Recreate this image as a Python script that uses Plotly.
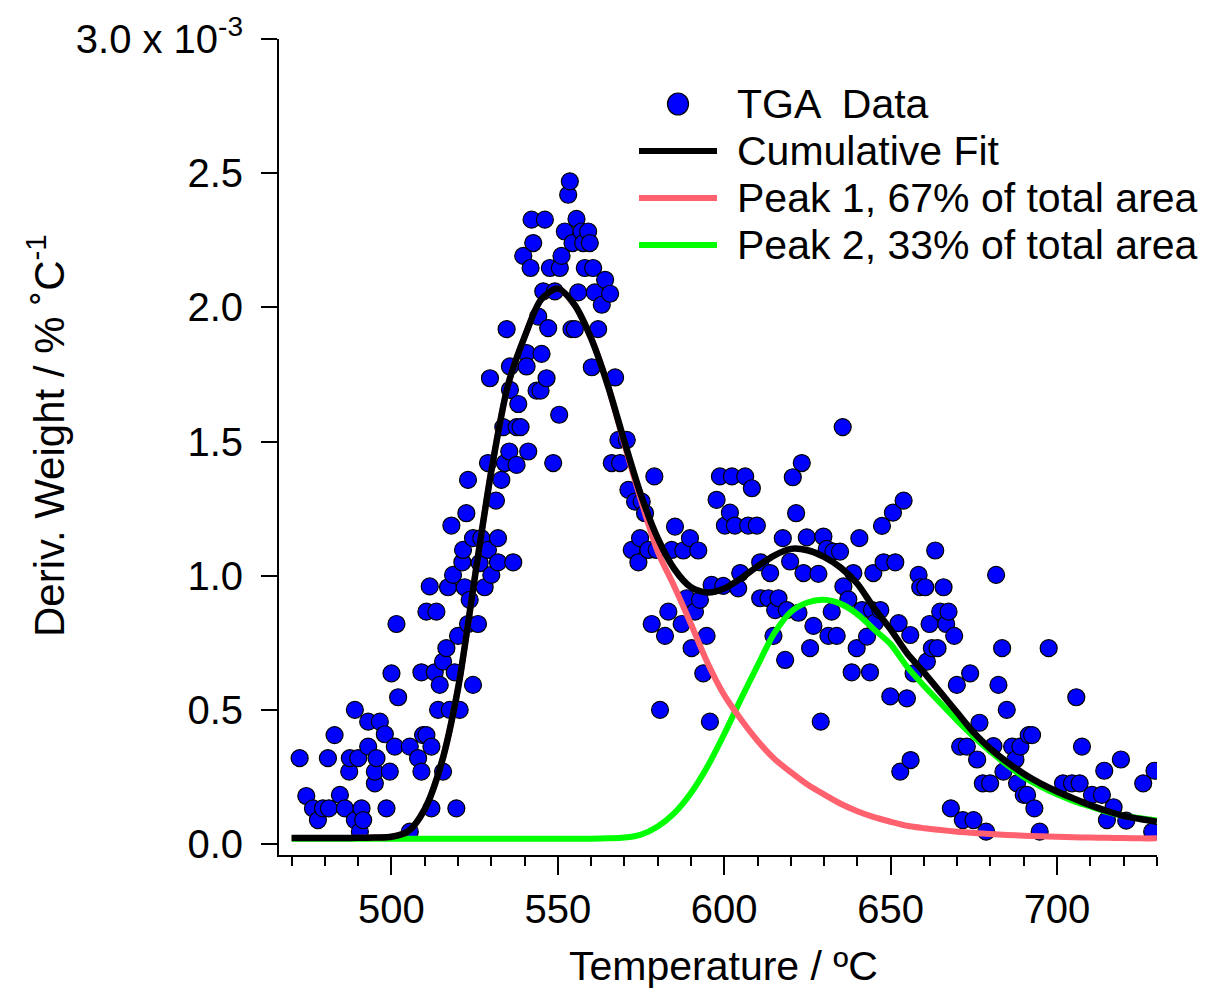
import plotly.graph_objects as go

# ---------------- data (y values in units of 1e-3 % / °C) ----------------
tga_temp = [
    472.4, 474.4, 476.4, 477.9, 479.4, 480.9, 481.2, 482.9, 484.5, 486.0,
    487.3, 487.5, 489.0, 489.0, 490.0, 490.5, 491.0, 491.5, 493.0, 493.0,
    495.0, 495.0, 495.5, 496.5, 498.0, 498.5, 499.5, 500.0, 501.0, 501.5,
    502.0, 505.5, 505.5, 508.0, 509.0, 509.0, 509.5, 510.5, 510.5, 511.5,
    512.0, 512.0, 513.0, 513.5, 514.0, 514.5, 515.5, 515.5, 516.5, 517.0,
    517.5, 518.0, 518.5, 519.0, 519.5, 520.0, 520.5, 521.3, 521.5, 522.0,
    522.5, 523.0, 523.0, 523.5, 524.5, 524.5, 526.0, 526.5, 527.0, 528.0,
    529.0, 530.0, 531.4, 532.0, 532.0, 533.0, 536.6,
    529.0, 529.6, 533.6, 534.1, 534.6, 535.4, 535.6, 535.6, 537.6, 537.6,
    538.1, 538.8, 539.6, 540.6, 540.6, 541.1, 541.8, 542.1, 542.6, 543.6,
    544.1, 544.8, 545.1, 545.6, 546.1, 546.6, 547.1, 547.6, 548.6, 549.1,
    550.4, 550.6, 551.1, 552.1, 553.1, 553.6, 554.1, 554.4, 555.1, 555.6,
    556.1, 557.1, 557.6, 558.1, 559.1, 559.6, 560.2, 560.6, 561.1, 562.1,
    563.2, 564.2, 565.7, 566.2, 567.2, 568.2, 568.7, 570.7, 571.2, 573.2,
    572.2, 574.2, 574.7, 575.2, 576.2, 577.2, 578.2, 579.0, 579.7, 580.7,
    582.2, 583.2, 584.2, 585.2, 587.2, 587.7, 588.7, 589.7, 590.2, 591.2,
    592.2, 592.7, 593.7, 594.7, 595.7, 596.2, 597.7, 598.7, 599.7, 600.2,
    601.7, 602.3, 603.2, 604.2, 604.8, 606.3, 607.2, 608.3, 609.8, 610.8,
    610.8, 613.3, 613.8, 614.8, 615.3, 616.3, 617.6, 618.3, 618.8, 619.8,
    620.6, 621.6, 622.3, 623.3, 623.8, 624.8, 625.8, 626.8, 628.3, 629.0,
    629.8, 630.8, 631.3, 632.3, 632.8, 633.8, 634.8, 635.6, 635.8, 637.3,
    638.3, 638.8, 639.8, 640.6, 641.4, 642.9, 643.8, 644.4, 644.8, 645.3,
    646.9, 647.4, 647.9, 649.9, 650.7, 651.4, 652.9, 653.9, 654.9, 656.0,
    652.4, 655.9, 656.9, 658.4, 658.9, 660.4, 660.9, 661.7, 662.4, 663.4,
    664.1, 664.9, 665.9, 666.7, 667.4, 668.1, 669.1, 669.9, 670.9, 671.7,
    672.9, 673.9, 674.9, 676.0, 676.7, 677.7, 678.7, 679.9, 680.9, 681.7,
    682.4, 683.5, 683.9, 684.9, 686.5, 687.5, 688.0, 689.0, 690.0, 691.0,
    691.5, 692.5, 693.2, 694.8, 697.5, 701.8, 704.5, 705.8, 706.8, 707.5,
    710.5, 713.5, 714.2, 715.0, 717.0, 719.2, 720.8, 725.9, 728.6, 729.3,
]
tga_deriv = [
    0.32, 0.179, 0.133, 0.089, 0.133, 0.32, 0.133, 0.406, 0.183, 0.133,
    0.27, 0.32, 0.50, 0.089, 0.32, 0.046, 0.133, 0.089, 0.456, 0.363,
    0.226, 0.27, 0.32, 0.456, 0.409, 0.133, 0.27, 0.636, 0.363, 0.82,
    0.547, 0.363, 0.046, 0.32, 0.27, 0.64, 0.406, 0.406, 0.866, 0.96,
    0.363, 0.133, 0.64, 0.866, 0.50, 0.593, 0.27, 0.68, 0.73, 0.957,
    0.50, 1.187, 1.003, 0.64, 0.133, 0.776, 0.50, 1.05, 1.096, 0.957,
    1.233, 0.82, 1.357, 0.91, 0.593, 1.14, 0.82, 1.047, 1.14, 0.957,
    1.096, 1.003, 1.28, 1.14, 1.05, 1.357, 1.05,
    1.42, 1.736, 1.554, 1.42, 1.919, 1.463, 1.78, 1.693, 1.413, 1.554,
    1.64, 1.554, 2.192, 1.83, 1.78, 1.463, 2.147, 2.327, 2.24, 1.69,
    1.966, 1.69, 1.827, 2.06, 2.327, 1.736, 1.923, 2.147, 1.42, 2.06,
    1.60, 2.147, 2.192, 2.283, 2.42, 2.47, 1.919, 2.24, 1.919, 2.33,
    2.056, 2.283, 2.24, 2.147, 2.283, 2.24, 1.777, 2.147, 2.056, 1.919,
    2.01, 2.103, 2.051, 1.42, 1.739, 1.506, 1.42, 1.506, 1.32, 1.276,
    1.096, 1.05, 1.14, 1.276, 1.233, 1.096, 0.82, 1.37, 1.096, 0.50,
    0.776, 0.866, 1.096, 1.183, 0.82, 1.094, 0.916, 1.14, 0.73, 0.866,
    1.094, 0.91, 0.636, 0.776, 0.456, 0.966, 1.283, 1.37, 0.962, 1.187,
    1.235, 1.37, 1.187, 0.953, 1.01, 1.37, 1.187, 1.326, 1.187, 1.05,
    0.916, 0.916, 1.01, 0.776, 0.872, 0.916, 1.14, 0.686, 0.872, 1.053,
    1.367, 1.233, 0.862, 1.42, 1.01, 1.143, 0.73, 0.813, 1.007, 0.456,
    1.146, 1.10, 0.776, 0.866, 1.09, 0.776, 1.09, 1.554, 0.96, 0.912,
    0.64, 1.01, 0.73, 1.14, 0.872, 0.773, 0.64, 0.872, 1.01, 0.825,
    0.872, 1.186, 1.05, 0.55, 1.235, 1.05, 0.27, 1.28, 0.543, 0.313,
    0.823, 0.779, 0.636, 1.003, 0.957, 0.957, 0.68, 0.82, 0.73, 1.094,
    0.73, 0.866, 0.957, 0.82, 0.866, 0.133, 0.776, 0.593, 0.363, 0.089,
    0.363, 0.636, 0.089, 0.315, 0.452, 0.226, 0.046, 0.226, 0.365, 1.003,
    0.593, 0.73, 0.27, 0.50, 0.363, 0.315, 0.226, 0.363, 0.183, 0.183,
    0.406, 0.406, 0.133, 0.046, 0.73, 0.226, 0.226, 0.547, 0.226, 0.363,
    0.183, 0.183, 0.273, 0.089, 0.137, 0.315, 0.087, 0.226, 0.046, 0.273,
]

fit_temp = [
    470, 475, 480, 485, 490, 495, 500, 505, 510, 515, 520, 525, 530, 535,
    540, 545, 550, 555, 560, 565, 570, 575, 580, 585, 590, 595, 600, 605,
    610, 615, 620, 625, 630, 635, 640, 645, 650, 655, 660, 665, 670, 675,
    680, 685, 690, 695, 700, 705, 710, 715, 720, 725, 730,
]
cumulative_fit = [
    0.022, 0.022, 0.022, 0.022, 0.023, 0.024, 0.027, 0.047, 0.13, 0.30,
    0.58, 0.99, 1.39, 1.71, 1.89, 2.03, 2.07, 2.01, 1.885, 1.71,
    1.50, 1.30, 1.14, 1.025, 0.957, 0.937, 0.952, 0.99, 1.035, 1.075,
    1.10, 1.095, 1.07, 1.03, 0.97, 0.88, 0.80, 0.71, 0.64, 0.565,
    0.49, 0.415, 0.355, 0.305, 0.262, 0.226, 0.196, 0.17, 0.145, 0.123,
    0.105, 0.093, 0.083,
]
peak1_fit = [
    0.022, 0.022, 0.022, 0.022, 0.023, 0.024, 0.027, 0.047, 0.13, 0.30,
    0.58, 0.99, 1.39, 1.71, 1.89, 2.03, 2.07, 2.01, 1.885, 1.71,
    1.49, 1.28, 1.09, 0.96, 0.82, 0.675, 0.555, 0.465, 0.385, 0.318,
    0.268, 0.222, 0.185, 0.15, 0.122, 0.10, 0.083, 0.068, 0.059, 0.052,
    0.046, 0.041, 0.037, 0.034, 0.031, 0.029, 0.027, 0.025, 0.024, 0.023,
    0.022, 0.021, 0.021,
]
peak2_fit = [
    0.02, 0.02, 0.02, 0.02, 0.02, 0.02, 0.02, 0.02, 0.02, 0.02,
    0.02, 0.02, 0.02, 0.02, 0.02, 0.02, 0.02, 0.02, 0.02, 0.021,
    0.024, 0.035, 0.065, 0.115, 0.19, 0.29, 0.41, 0.54, 0.665, 0.785,
    0.865, 0.90, 0.91, 0.895, 0.857, 0.80, 0.745, 0.66, 0.59, 0.525,
    0.46, 0.40, 0.345, 0.295, 0.25, 0.215, 0.185, 0.16, 0.14, 0.12,
    0.105, 0.096, 0.088,
]

x_tick_vals = [500, 550, 600, 650, 700]
y_tick_vals = [0.0, 0.5, 1.0, 1.5, 2.0, 2.5, 3.0]
y_tick_text = ["0.0", "0.5", "1.0", "1.5", "2.0", "2.5", "3.0 x 10<sup>-3</sup>"]

legend_labels = ["TGA  Data", "Cumulative Fit", "Peak 1, 67% of total area",
                 "Peak 2, 33% of total area"]

# ---------------- style ----------------
FONT = "Liberation Sans, Arial, sans-serif"
BLUE = "#0000FF"
RED = "#FF616E"
GREEN = "#00FF00"
BLACK = "#000000"

fig = go.Figure()

fig.add_trace(go.Scatter(
    x=tga_temp, y=tga_deriv, mode="markers", name=legend_labels[0],
    marker=dict(size=17, color=BLUE, line=dict(color=BLACK, width=1.2)),
    showlegend=False,
))
fig.add_trace(go.Scatter(
    x=fit_temp, y=peak2_fit, mode="lines", name=legend_labels[3],
    line=dict(color=GREEN, width=6, shape="spline", smoothing=0.8),
    showlegend=False,
))
fig.add_trace(go.Scatter(
    x=fit_temp, y=peak1_fit, mode="lines", name=legend_labels[2],
    line=dict(color=RED, width=6, shape="spline", smoothing=0.8),
    showlegend=False,
))
fig.add_trace(go.Scatter(
    x=fit_temp, y=cumulative_fit, mode="lines", name=legend_labels[1],
    line=dict(color=BLACK, width=6.5, shape="spline", smoothing=0.8),
    showlegend=False,
))

# ---------------- layout geometry (screen pixels -> paper) ----------------
OFF = 8                      # default page margin of the html body
W, H = 1209 - OFF, 990 - OFF
ML, MR, MT, MB = 279 - OFF, 52, 39 - OFF, 135
PW, PH = W - ML - MR, H - MT - MB


def px(xp):
    return (xp - OFF - ML) / PW


def py(yp):
    return (OFF + H - MB - yp) / PH


shapes = []
annotations = []

# custom legend (long line samples as in the reference)
leg_rows = [104, 151, 198, 245]
leg_colors = [None, BLACK, RED, GREEN]
for i, (row, col) in enumerate(zip(leg_rows, leg_colors)):
    if i == 0:
        shapes.append(dict(
            type="circle", xref="paper", yref="paper",
            xsizemode="pixel", ysizemode="pixel",
            xanchor=px(678), yanchor=py(row),
            x0=-10.5, x1=10.5, y0=-11, y1=11,
            fillcolor=BLUE, line=dict(color=BLACK, width=1.2),
        ))
    else:
        shapes.append(dict(
            type="line", xref="paper", yref="paper",
            x0=px(639), x1=px(717), y0=py(row), y1=py(row),
            line=dict(color=col, width=6),
        ))
    annotations.append(dict(
        text=legend_labels[i], xref="paper", yref="paper",
        x=px(735), y=py(row), xanchor="left", yanchor="middle",
        showarrow=False, font=dict(family=FONT, size=41, color=BLACK),
    ))

# axis titles
annotations.append(dict(
    text="Temperature / ºC", xref="paper", yref="paper",
    x=px(723), y=py(966), xanchor="center", yanchor="middle",
    showarrow=False, font=dict(family=FONT, size=41, color=BLACK),
))
annotations.append(dict(
    text="Deriv. Weight / % ˚C<sup>-1</sup>", xref="paper", yref="paper",
    x=px(46), y=py(436), xanchor="center", yanchor="middle", textangle=-90,
    showarrow=False, font=dict(family=FONT, size=42, color=BLACK),
))

fig.update_layout(
    width=W, height=H,
    margin=dict(l=ML, r=MR, t=MT, b=MB, pad=0, autoexpand=False),
    paper_bgcolor="white", plot_bgcolor="white",
    showlegend=False,
    font=dict(family=FONT, size=40, color=BLACK),
    shapes=shapes, annotations=annotations,
    xaxis=dict(
        range=[466.2, 730.05], showgrid=False, zeroline=False,
        automargin=False,
        showline=True, linecolor=BLACK, linewidth=2,
        ticks="outside", ticklen=18, tickwidth=2, tickcolor=BLACK,
        tickvals=x_tick_vals, tickfont=dict(family=FONT, size=40, color=BLACK),
        minor=dict(ticks="outside", ticklen=9, tickwidth=2, tickcolor=BLACK,
                   dtick=10, tick0=470, showgrid=False),
    ),
    yaxis=dict(
        range=[-0.041, 3.0005], showgrid=False, zeroline=False,
        automargin=False,
        showline=True, linecolor=BLACK, linewidth=2,
        ticks="outside", ticklen=16, tickwidth=2, tickcolor=BLACK,
        tickvals=y_tick_vals, ticktext=y_tick_text, ticklabelstandoff=10,
        tickfont=dict(family=FONT, size=40, color=BLACK),
    ),
)

fig.write_html("out.html")
